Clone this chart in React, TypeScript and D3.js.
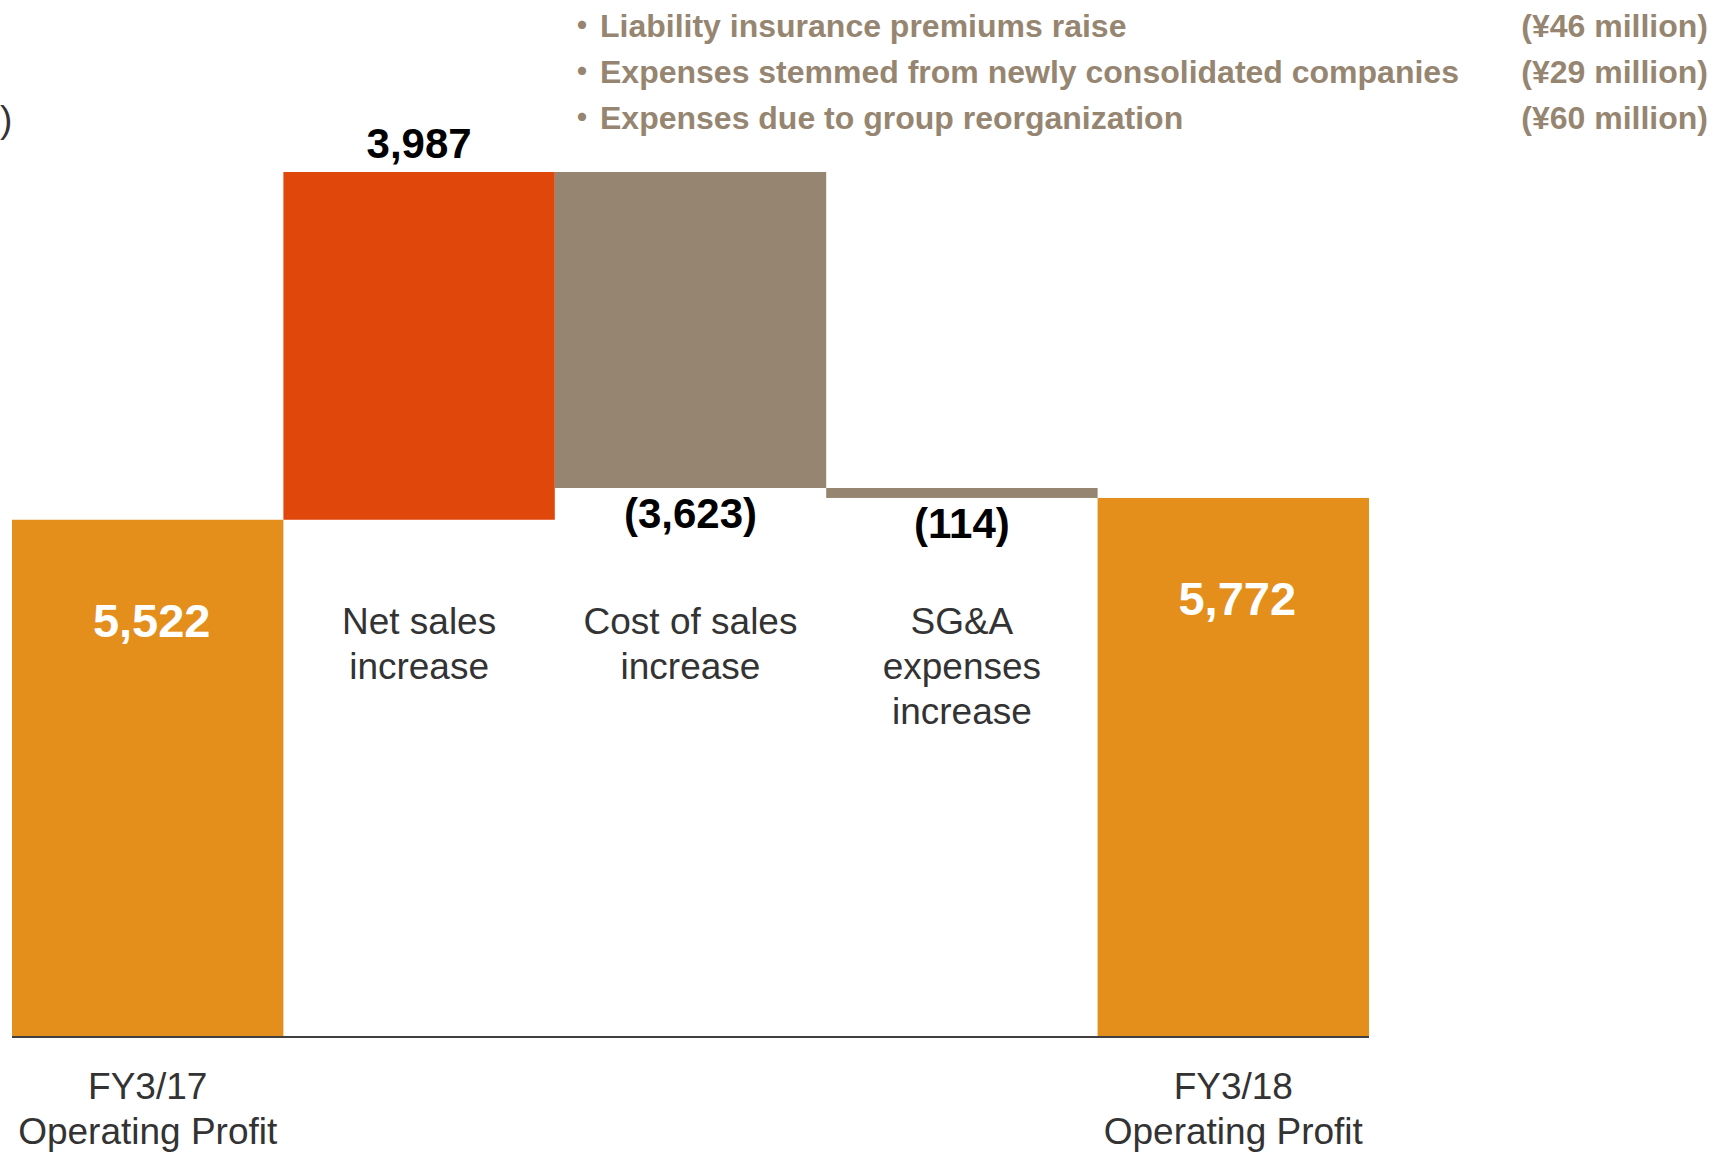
import React from "react";
import * as d3 from "d3";

const categories = ["FY3/17 Operating Profit", "Net sales increase", "Cost of sales increase", "SG&A expenses increase", "FY3/18 Operating Profit"];
const categoryLines = [["FY3/17", "Operating Profit"], ["Net sales", "increase"], ["Cost of sales", "increase"], ["SG&A", "expenses", "increase"], ["FY3/18", "Operating Profit"]];
const values = [5522, 3987, -3623, -114, 5772];
const kinds = ["total", "increase", "decrease", "decrease", "total"];
const valueLabels = ["5,522", "3,987", "(3,623)", "(114)", "5,772"];
const notes = ["Liability insurance premiums raise", "Expenses stemmed from newly consolidated companies", "Expenses due to group reorganization"];
const noteAmounts = ["(¥46 million)", "(¥29 million)", "(¥60 million)"];
const unitFragment = ")";

const W = 1717, H = 1154;
const COLORS: Record<string, string> = { total: "#E48E1C", increase: "#E0470A", decrease: "#968671" };
const FONT = "'Liberation Sans', Arial, sans-serif";

export default function App() {
  let running = 0;
  const segs = values.map((v, i) => {
    let y0: number, y1: number;
    if (kinds[i] === "total") { y0 = 0; y1 = v; running = v; }
    else { y0 = running; y1 = running + v; running = y1; }
    return { cat: categories[i], kind: kinds[i], lo: Math.min(y0, y1), hi: Math.max(y0, y1), label: valueLabels[i], lines: categoryLines[i] };
  });

  const x = d3.scaleBand<string>().domain(categories).range([12, 1369]).padding(0);
  const y = d3.scaleLinear().domain([-408, 9509]).range([1037, 172]);
  const baseY = 1037;

  return (
    <svg width={W} height={H} style={{ position: "absolute", left: 0, top: 0, background: "#fff" }} fontFamily={FONT}>
      {segs.map((s, i) => {
        const x0 = x(s.cat)!;
        const bw = x.bandwidth();
        const top = y(s.hi);
        const bottom = s.kind === "total" ? baseY : y(s.lo);
        return <rect key={"b" + i} x={x0} y={top} width={bw} height={bottom - top} fill={COLORS[s.kind]} />;
      })}
      <line x1={12} x2={1369} y1={baseY} y2={baseY} stroke="#404040" strokeWidth={2} />

      {segs.map((s, i) => {
        const cx = x(s.cat)! + x.bandwidth() / 2;
        let ty: number, fill: string, size: number;
        if (s.kind === "total") { ty = y(s.hi) + 117; fill = "#fff"; size = 47; }
        else if (s.kind === "increase") { ty = y(s.hi) - 14; fill = "#000"; size = 42; }
        else { ty = y(s.lo) + 40; fill = "#000"; size = 42; }
        return <text key={"v" + i} x={cx + (s.kind === "total" ? 4 : 0)} y={ty} textAnchor="middle" fontWeight="bold" fontSize={size} fill={fill}>{s.label}</text>;
      })}

      {segs.map((s, i) => {
        const cx = x(s.cat)! + x.bandwidth() / 2;
        const startY = s.kind === "total" ? 1099 : 634;
        return (
          <text key={"c" + i} textAnchor="middle" fontSize={37} fill="#333">
            {s.lines.map((ln, j) => <tspan key={j} x={cx} y={startY + j * 45}>{ln}</tspan>)}
          </text>
        );
      })}

      <text x={0} y={132} fontSize={37} fill="#333">{unitFragment}</text>

      {notes.map((n, i) => (
        <g key={"n" + i}>
          <text x={582} y={37 + i * 46} textAnchor="middle" fontSize={32} fontWeight="bold" fill="#968671" fontFamily="'Noto Sans CJK JP', sans-serif">・</text>
          <text x={600} y={37 + i * 46} fontSize={32} fontWeight="bold" fill="#968671">{n}</text>
          <text x={1708} y={37 + i * 46} textAnchor="end" fontSize={32} fontWeight="bold" fill="#968671">{noteAmounts[i]}</text>
        </g>
      ))}
    </svg>
  );
}
